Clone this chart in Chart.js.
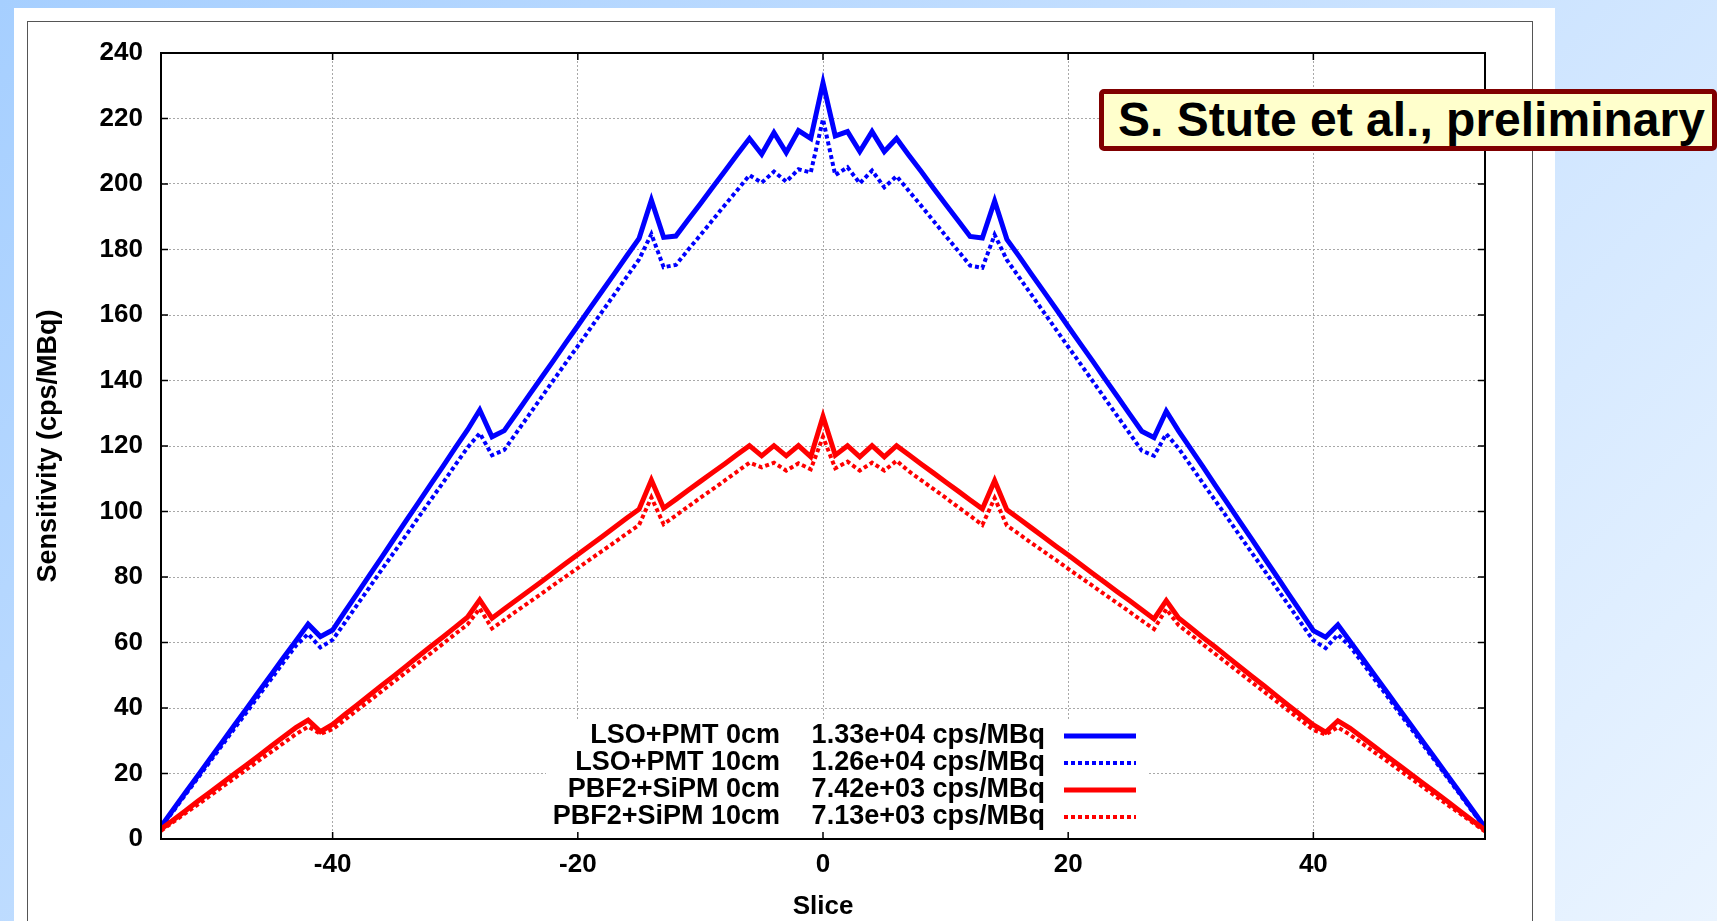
<!DOCTYPE html>
<html>
<head>
<meta charset="utf-8">
<title>Sensitivity per slice</title>
<script src="https://cdn.jsdelivr.net/npm/chart.js@4.4.1/dist/chart.umd.min.js"></script>
<style>
  html, body { margin: 0; padding: 0; width: 1717px; height: 921px; overflow: hidden; }
  body {
    position: relative;
    background: linear-gradient(135deg, #a6cfff 0%, #c4dfff 45%, #eaf4ff 100%);
    font-family: "Liberation Sans", Arial, Helvetica, sans-serif;
  }
  #sheet { position: absolute; left: 14px; top: 8px; width: 1541px; height: 960px; background: #fff; }
  #border { position: absolute; left: 27px; top: 21px; width: 1506px; height: 960px; border: 1px solid #555; box-sizing: border-box; }
  #plot { position: absolute; left: 0; top: 0; }
  #stamp {
    position: absolute; left: 1099px; top: 89px; width: 618px; height: 62px;
    box-sizing: border-box; border: 5px solid #800000; border-radius: 5px;
    background: #ffffcc; color: #000;
    font: bold 48px "Liberation Sans", Arial, Helvetica, sans-serif;
    line-height: 52px; padding-left: 14px; white-space: nowrap; overflow: hidden;
  }
</style>
</head>
<body>
<div id="sheet"></div>
<div id="border"></div>
<canvas id="plot" width="1717" height="921"></canvas>
<div id="stamp">S. Stute et al., preliminary</div>

<script>
// slice index along the axial direction
var slices = [
  -54, -53, -52, -51, -50, -49, -48, -47, -46, -45, -44, -43, -42, -41, -40, -39, -38, -37, -36, -35,
  -34, -33, -32, -31, -30, -29, -28, -27, -26, -25, -24, -23, -22, -21, -20, -19, -18, -17, -16, -15,
  -14, -13, -12, -11, -10, -9, -8, -7, -6, -5, -4, -3, -2, -1, 0,
  1, 2, 3, 4, 5, 6, 7, 8, 9, 10, 11, 12, 13, 14, 15, 16, 17, 18, 19, 20,
  21, 22, 23, 24, 25, 26, 27, 28, 29, 30, 31, 32, 33, 34, 35, 36, 37, 38, 39, 40,
  41, 42, 43, 44, 45, 46, 47, 48, 49, 50, 51, 52, 53, 54
];

var seriesNames = ['LSO+PMT 0cm', 'LSO+PMT 10cm', 'PBF2+SiPM 0cm', 'PBF2+SiPM 10cm'];
var seriesTotals = ['1.33e+04 cps/MBq', '1.26e+04 cps/MBq', '7.42e+03 cps/MBq', '7.13e+03 cps/MBq'];

// sensitivity (cps/MBq) per slice
var lsoPmt0 = [
  3.8, 9.0, 14.2, 19.3, 24.5, 29.6, 34.8, 39.9, 45.1, 50.2, 55.4, 60.5, 65.6, 61.8, 63.8, 69.4, 74.9, 80.5, 86.0, 91.6,
  97.2, 102.7, 108.3, 113.8, 119.4, 124.9, 131.0, 122.8, 124.7, 130.0, 135.4, 140.7, 146.0, 151.4, 156.7, 162.1, 167.4, 172.7, 178.1, 183.4,
  195.1, 183.7, 184.1, 189.1, 194.0, 199.0, 204.0, 209.0, 213.9, 209.1, 215.7, 209.6, 216.3, 213.9, 230.9,
  214.7, 216.0, 209.9, 216.0, 209.9, 213.9, 208.8, 203.9, 198.8, 193.8, 188.9, 184.0, 183.5, 194.8, 183.1, 177.9, 172.5, 167.2, 161.9, 156.5,
  151.2, 145.9, 140.5, 135.2, 129.8, 124.5, 122.6, 130.6, 124.6, 119.1, 113.6, 108.0, 102.5, 96.9, 91.4, 85.8, 80.3, 74.7, 69.2, 63.6,
  61.6, 65.4, 60.3, 55.2, 50.0, 44.9, 39.7, 34.6, 29.4, 24.3, 19.1, 14.0, 8.8, 3.6
];
var lsoPmt10 = [
  3.5, 8.5, 13.6, 18.6, 23.7, 28.7, 33.8, 38.8, 43.9, 48.9, 54.0, 59.0, 62.6, 58.5, 60.8, 66.1, 71.5, 76.8, 82.2, 87.5,
  92.8, 98.2, 103.5, 108.8, 114.2, 119.5, 123.9, 117.2, 118.8, 124.1, 129.4, 134.7, 140.0, 145.3, 150.5, 155.8, 161.1, 166.4, 171.7, 177.0,
  184.7, 174.6, 175.3, 179.9, 184.4, 189.0, 193.6, 198.1, 202.7, 200.4, 203.8, 200.7, 204.5, 203.5, 219.8,
  202.7, 205.1, 200.2, 204.1, 199.0, 202.4, 197.9, 193.4, 188.8, 184.2, 179.7, 175.1, 174.4, 184.5, 176.8, 171.5, 166.2, 160.9, 155.6, 150.3,
  145.1, 139.8, 134.5, 129.2, 123.9, 118.6, 117.0, 123.7, 119.3, 114.0, 108.6, 103.3, 98.0, 92.6, 87.3, 82.0, 76.6, 71.3, 65.9, 60.6,
  58.3, 62.4, 58.8, 53.8, 48.7, 43.7, 38.6, 33.6, 28.5, 23.5, 18.4, 13.4, 8.3, 3.3
];
var pbf2Sipm0 = [
  3.0, 5.8, 8.6, 11.5, 14.3, 17.1, 19.9, 22.7, 25.5, 28.4, 31.2, 34.0, 36.3, 32.8, 35.0, 38.0, 40.9, 43.9, 46.9, 49.8,
  52.8, 55.8, 58.8, 61.7, 64.7, 67.7, 73.0, 67.4, 70.2, 73.0, 75.7, 78.5, 81.3, 84.1, 86.9, 89.6, 92.4, 95.2, 98.0, 100.7,
  109.6, 101.0, 103.7, 106.5, 109.2, 111.9, 114.6, 117.4, 120.1, 117.0, 120.1, 117.0, 120.1, 116.7, 129.0,
  117.2, 120.1, 116.7, 120.1, 116.7, 120.1, 117.3, 114.5, 111.8, 109.0, 106.3, 103.5, 100.8, 109.4, 100.5, 97.8, 95.0, 92.2, 89.4, 86.7,
  83.9, 81.1, 78.3, 75.5, 72.8, 70.0, 67.2, 72.8, 67.5, 64.5, 61.5, 58.6, 55.6, 52.6, 49.6, 46.7, 43.7, 40.7, 37.8, 34.8,
  32.6, 36.1, 33.8, 31.0, 28.2, 25.3, 22.5, 19.7, 16.9, 14.1, 11.3, 8.4, 5.6, 2.8
];
var pbf2Sipm10 = [
  2.5, 5.2, 7.9, 10.5, 13.2, 15.9, 18.6, 21.3, 24.0, 26.6, 29.3, 32.0, 34.3, 32.1, 33.5, 36.4, 39.3, 42.2, 45.1, 48.0,
  50.9, 53.8, 56.7, 59.6, 62.6, 65.5, 70.4, 64.3, 66.9, 69.6, 72.2, 74.8, 77.5, 80.1, 82.7, 85.4, 88.0, 90.6, 93.3, 95.9,
  104.3, 96.1, 98.8, 101.5, 104.2, 106.8, 109.5, 112.2, 114.9, 113.5, 114.9, 112.5, 114.7, 112.9, 122.8,
  113.2, 115.2, 112.5, 114.9, 112.5, 115.5, 112.3, 109.6, 106.9, 104.2, 101.4, 98.7, 95.9, 104.1, 95.7, 93.1, 90.4, 87.8, 85.2, 82.5,
  79.9, 77.3, 74.6, 72.0, 69.4, 66.7, 64.1, 70.2, 65.3, 62.4, 59.4, 56.5, 53.6, 50.7, 47.8, 44.9, 42.0, 39.1, 36.2, 33.3,
  31.9, 34.1, 31.8, 29.1, 26.4, 23.8, 21.1, 18.4, 15.7, 13.0, 10.3, 7.7, 5.0, 2.3
];

var FONT = '"Liberation Sans", Arial, Helvetica, sans-serif';

var series = [
  { values: lsoPmt0, color: '#0000ff', dash: [], width: 5 },
  { values: lsoPmt10, color: '#0000ff', dash: [4, 3], width: 4 },
  { values: pbf2Sipm0, color: '#ff0000', dash: [], width: 5 },
  { values: pbf2Sipm10, color: '#ff0000', dash: [4, 3], width: 4 }
];

function toPoints(values) {
    return slices.map(function (s, i) {
        return { x: s, y: values[i] };
    });
}

// gnuplot-like frame, inward tick marks and the key
var framePlugin = {
    id: 'framePlugin',
    beforeDatasetsDraw: function (chart) {
        // the key is opaque, it hides the grid behind it
        var ctx = chart.ctx;
        ctx.save();
        ctx.fillStyle = '#ffffff';
        ctx.fillRect(546, 721, 602, 115);
        ctx.restore();
    },
    afterDatasetsDraw: function (chart) {
        var ctx = chart.ctx;
        var a = chart.chartArea;
        var xs = chart.scales.x;
        var ys = chart.scales.y;
        ctx.save();

        ctx.strokeStyle = '#000';
        ctx.lineWidth = 2;
        ctx.strokeRect(a.left, a.top, a.right - a.left, a.bottom - a.top);

        ctx.lineWidth = 1.5;
        ctx.beginPath();
        ys.ticks.forEach(function (t) {
            var py = ys.getPixelForValue(t.value);
            ctx.moveTo(a.left, py); ctx.lineTo(a.left + 7, py);
            ctx.moveTo(a.right, py); ctx.lineTo(a.right - 7, py);
        });
        xs.ticks.forEach(function (t) {
            var px = xs.getPixelForValue(t.value);
            ctx.moveTo(px, a.bottom); ctx.lineTo(px, a.bottom - 7);
            ctx.moveTo(px, a.top); ctx.lineTo(px, a.top + 7);
        });
        ctx.stroke();

        ctx.font = 'bold 27px ' + FONT;
        ctx.fillStyle = '#000';
        ctx.textBaseline = 'middle';
        ctx.textAlign = 'right';
        chart.data.datasets.forEach(function (ds, i) {
            var cy = 736 + i * 27;
            ctx.fillText(ds.label, 780, cy);
            ctx.fillText(seriesTotals[i], 1045, cy);
            ctx.strokeStyle = ds.borderColor;
            ctx.lineWidth = ds.borderWidth;
            ctx.setLineDash(ds.borderDash);
            ctx.beginPath();
            ctx.moveTo(1064, cy);
            ctx.lineTo(1136, cy);
            ctx.stroke();
        });
        ctx.restore();
    }
};

var ctx = document.getElementById('plot').getContext('2d');
var sensChart = new Chart(ctx, {
    type: 'line',
    data: {
        datasets: series.map(function (s, i) {
            return {
                label: seriesNames[i],
                data: toPoints(s.values),
                borderColor: s.color,
                borderWidth: s.width,
                borderDash: s.dash,
                borderCapStyle: 'butt',
                borderJoinStyle: 'miter',
                pointRadius: 0,
                tension: 0,
                fill: false,
                order: series.length - i
            };
        })
    },
    options: {
        responsive: false,
        animation: false,
        devicePixelRatio: 1,
        layout: { padding: { left: 0, right: 232, top: 53, bottom: 0 } },
        plugins: {
            legend: { display: false },
            tooltip: { enabled: false }
        },
        scales: {
            x: {
                type: 'linear',
                min: -54,
                max: 54,
                afterFit: function (scale) { scale.height = 82; },
                ticks: {
                    stepSize: 20,
                    includeBounds: false,
                    padding: 10,
                    maxRotation: 0,
                    color: '#000',
                    font: { family: FONT, size: 26, weight: 'bold' }
                },
                grid: { color: '#a8a8a8', lineWidth: 1, drawTicks: false },
                border: { display: false, dash: [2, 2] },
                title: {
                    display: true,
                    text: 'Slice',
                    color: '#000',
                    padding: { top: 0, bottom: 0 },
                    font: { family: FONT, size: 26, weight: 'bold', lineHeight: 1.1 }
                }
            },
            y: {
                min: 0,
                max: 240,
                afterFit: function (scale) { scale.width = 161; },
                ticks: {
                    stepSize: 20,
                    padding: 18,
                    color: '#000',
                    font: { family: FONT, size: 26, weight: 'bold' }
                },
                grid: { color: '#a8a8a8', lineWidth: 1, drawTicks: false },
                border: { display: false, dash: [2, 2] },
                title: {
                    display: true,
                    text: 'Sensitivity (cps/MBq)',
                    color: '#000',
                    padding: { top: 32, bottom: 0 },
                    font: { family: FONT, size: 27, weight: 'bold' }
                }
            }
        }
    },
    plugins: [framePlugin]
});
</script>
</body>
</html>
